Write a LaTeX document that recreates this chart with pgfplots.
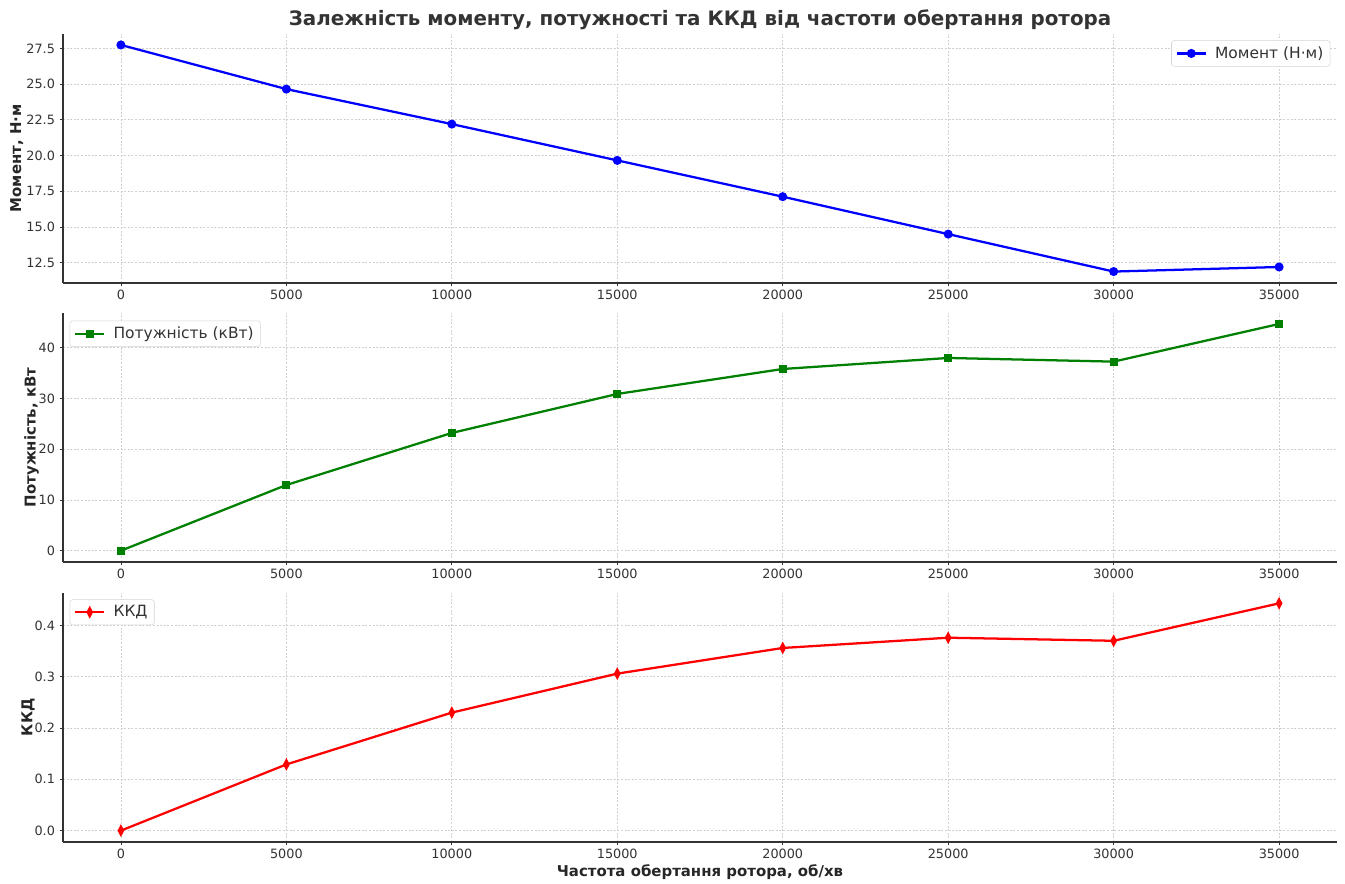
\documentclass[border=0pt]{standalone}
\usepackage{fontspec}
\setmainfont{DejaVu Sans}
\usepackage{pgfplots}
\pgfplotsset{compat=1.18}
\definecolor{txt}{HTML}{333333}
\definecolor{gridc}{HTML}{D0D0D0}
\definecolor{legc}{HTML}{D5D5D5}
\definecolor{mblue}{HTML}{0000FF}
\definecolor{mgreen}{HTML}{008000}
\definecolor{mred}{HTML}{FF0000}
\pgfplotsset{
  common/.style={
    scale only axis, width=955.5pt, height=187pt,
    xmin=-1750, xmax=36750,
    xtick={0,5000,10000,15000,20000,25000,30000,35000},
    scaled x ticks=false,
    axis lines=left, axis line style={-, draw=txt, line width=0.9pt},
    tick style={draw=txt, line width=0.6pt}, major tick length=2.5pt, tick align=outside,
    grid=major, major grid style={gridc, dash pattern=on 1.5pt off 1.2pt, line width=0.5pt},
    ticklabel style={font=\fontsize{9.6}{11}\selectfont, text=txt},
    /pgf/number format/assume math mode=true,
    x tick label style={/pgf/number format/1000 sep={}, yshift=1pt},
    ylabel style={font=\fontsize{11.2}{13}\selectfont\bfseries, text=black!85},
    xlabel style={font=\fontsize{11.2}{13}\selectfont\bfseries, text=black!85},
    xlabel shift=-2pt,
    legend style={font=\fontsize{11.6}{13}\selectfont, text=txt, draw=legc, rounded corners=2pt, fill=white, inner xsep=3pt, inner ysep=2.5pt, row sep=0pt},
    legend cell align=left,
    legend image code/.code={\draw[mark repeat=2,mark phase=2] plot coordinates {(0pt,0pt) (11pt,0pt) (22pt,0pt)}; \path (26pt,0pt);},
  },
}
\begin{document}
\begin{tikzpicture}
\useasboundingbox (0,0) rectangle (1008.75pt,663pt);
% Panel 1
\begin{axis}[common, at={(47.25pt,450.75pt)}, anchor=south west,
  ymin=11.08, ymax=28.53,
  ytick={12.5,15,17.5,20,22.5,25,27.5},
  yticklabel style={/pgf/number format/fixed, /pgf/number format/fixed zerofill, /pgf/number format/precision=1},
  ylabel={Момент, Н·м},
  ylabel shift=-4.5pt,
  title={Залежність моменту, потужності та ККД від частоти обертання ротора},
  title style={font=\fontsize{14.9}{16}\selectfont\bfseries, text=txt, at={(0.5,1)}, anchor=center, yshift=4.5pt},
  legend style={at={(1,1)}, anchor=north east, xshift=-5pt, yshift=-5pt},
]
\addplot[mblue, line width=1.7pt, mark=*, mark size=2.5pt, mark options={fill=mblue, draw=mblue}] coordinates {
(0,27.74) (5000,24.65) (10000,22.2) (15000,19.66) (20000,17.12) (25000,14.5) (30000,11.88) (35000,12.2)};
\addlegendentry{Момент (Н·м)}
\end{axis}
% Panel 2
\begin{axis}[common, at={(47.25pt,241.5pt)}, anchor=south west,
  ymin=-2.23, ymax=46.9,
  ytick={0,10,20,30,40},
  ylabel={Потужність, кВт},
  ylabel shift=-7pt,
  legend style={at={(0,1)}, anchor=north west, xshift=5pt, yshift=-6pt},
]
\addplot[mgreen, line width=1.7pt, mark=square*, mark size=2.2pt, mark options={fill=mgreen, draw=mgreen}] coordinates {
(0,0) (5000,12.94) (10000,23.2) (15000,30.88) (20000,35.8) (25000,37.97) (30000,37.25) (35000,44.67)};
\addlegendentry{Потужність (кВт)}
\end{axis}
% Panel 3
\begin{axis}[common, at={(47.25pt,31.5pt)}, anchor=south west,
  ymin=-0.0222, ymax=0.4638,
  ytick={0,0.1,0.2,0.3,0.4},
  yticklabel style={/pgf/number format/fixed, /pgf/number format/fixed zerofill, /pgf/number format/precision=1},
  ylabel={ККД},
  ylabel shift=-7pt,
  xlabel={Частота обертання ротора, об/хв},
  legend style={at={(0,1)}, anchor=north west, xshift=5pt, yshift=-5pt},
]
\addplot[mred, line width=1.7pt, mark=diamond*, mark size=3pt, mark options={fill=mred, draw=mred, xscale=0.7}] coordinates {
(0,0) (5000,0.129) (10000,0.23) (15000,0.306) (20000,0.356) (25000,0.376) (30000,0.370) (35000,0.443)};
\addlegendentry{ККД}
\end{axis}
\end{tikzpicture}
\end{document}
